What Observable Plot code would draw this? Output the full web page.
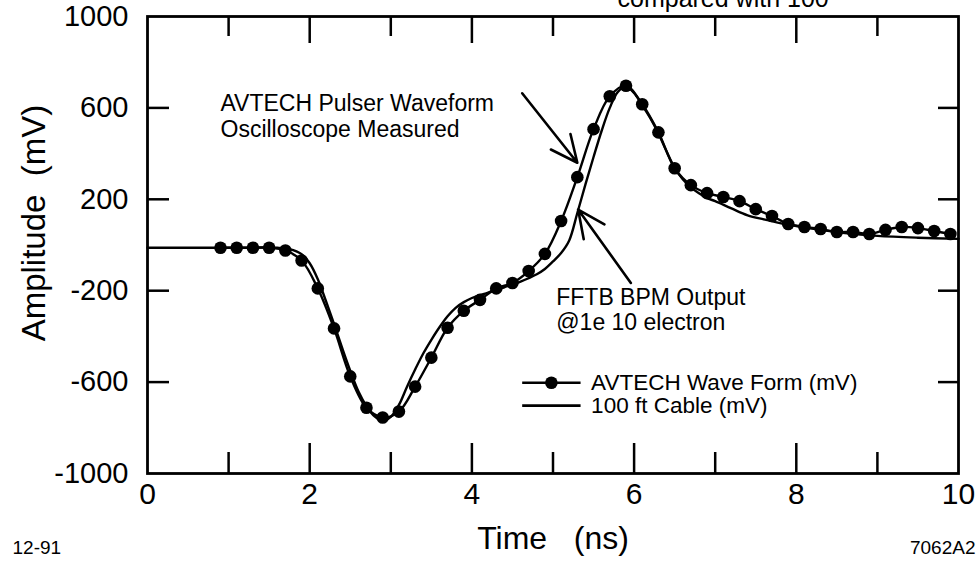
<!DOCTYPE html>
<html>
<head>
<meta charset="utf-8">
<script src="https://cdn.jsdelivr.net/npm/d3@7"></script>
<script src="https://cdn.jsdelivr.net/npm/@observablehq/plot@0.6"></script>
<style>
  html, body { margin: 0; padding: 0; background: #fff; }
  #chart svg { display: block; overflow: visible; }
  #chart svg text { white-space: pre; }
</style>
</head>
<body>
<div id="chart"></div>
<script>
// ---- data ----
const avtechTime = [0.9, 1.1, 1.3, 1.5, 1.7, 1.9, 2.1, 2.3, 2.5, 2.7, 2.9, 3.1, 3.3, 3.5, 3.7, 3.9, 4.1, 4.3, 4.5, 4.7, 4.9, 5.1, 5.3, 5.5, 5.7, 5.9, 6.1, 6.3, 6.5, 6.7, 6.9, 7.1, 7.3, 7.5, 7.7, 7.9, 8.1, 8.3, 8.5, 8.7, 8.9, 9.1, 9.3, 9.5, 9.7, 9.9];
const avtechMv = [-12, -12, -12, -12, -24, -68, -190, -365, -575, -712, -755, -729, -620, -493, -362, -288, -240, -190, -166, -114, -39, 105, 297, 507, 651, 697, 616, 493, 336, 262, 227, 210, 192, 157, 127, 92, 79, 70, 57, 57, 48, 66, 79, 74, 61, 48];

const cableTime = [0, 1.0, 1.6, 1.75, 1.9, 2.0, 2.1, 2.2, 2.3, 2.4, 2.5, 2.6, 2.7, 2.8, 2.9, 3.0, 3.1, 3.2, 3.3, 3.4, 3.5, 3.6, 3.7, 3.8, 3.9, 4.0, 4.2, 4.4, 4.6, 4.8, 4.9, 5.0, 5.1, 5.2, 5.3, 5.4, 5.5, 5.6, 5.7, 5.8, 5.9, 6.0, 6.1, 6.2, 6.3, 6.4, 6.5, 6.6, 6.7, 6.8, 6.9, 7.0, 7.2, 7.4, 7.6, 7.8, 8.0, 8.3, 8.6, 9.0, 9.5, 10];
const cableMv = [-12, -12, -12, -18, -40, -80, -150, -245, -345, -450, -550, -640, -705, -750, -768, -752, -700, -620, -545, -475, -415, -360, -312, -275, -250, -232, -208, -185, -160, -128, -105, -72, -35, 20, 140, 265, 385, 500, 600, 670, 692, 665, 612, 555, 488, 410, 338, 288, 252, 226, 205, 192, 160, 130, 112, 96, 83, 66, 52, 40, 32, 27];

const seriesNames = ["AVTECH Wave Form (mV)", "100 ft Cable (mV)"];
const xTickLabels = [0, 2, 4, 6, 8, 10];
const xMinorTicks = [1, 3, 5, 7, 9];
const xMajorTicks = [2, 4, 6, 8];
const yTickLabels = [1000, 600, 200, -200, -600, -1000];
const yTicks = [600, 200, -200, -600];
const annotationTexts = ["AVTECH Pulser Waveform", "Oscilloscope Measured", "FFTB BPM Output", "@1e 10 electron"];
const titleText = "compared with 100";
const xLabel = "Time   (ns)";
const yLabel = "Amplitude  (mV)";
const dateText = "12-91";
const figText = "7062A2";

// ---- tables built from the arrays ----
const avtech = avtechTime.map((t, i) => ({t, v: avtechMv[i]}));
const cable = cableTime.map((t, i) => ({t, v: cableMv[i]}));

// ---- layout (annotation anchors in data units) ----
const W = 978, H = 571;
const mL = 147, mR = 20, mT = 16, mB = 98;
const fw = W - mL - mR, fh = H - mT - mB;
const font = "'Liberation Sans', Arial, Helvetica, sans-serif";

const annPos = [
  {t: 0.9, v: 620}, {t: 0.9, v: 505},
  {t: 5.04, v: -231}, {t: 5.04, v: -341}
];
const arrows = [
  {t1: 4.62, v1: 664, t2: 5.30, v2: 360},
  {t1: 5.96, v1: -166, t2: 5.31, v2: 155}
];
const legendRows = [
  {t1: 4.62, t2: 5.34, tDot: 4.98, tText: 5.47, v: -603, name: seriesNames[0], dot: true},
  {t1: 4.62, t2: 5.34, tDot: 4.98, tText: 5.47, v: -703, name: seriesNames[1], dot: false}
];
const yLabelPos = [{t: -1.40, v: 96, label: yLabel}];

const chart = Plot.plot({
  width: W, height: H,
  marginLeft: mL, marginRight: mR, marginTop: mT, marginBottom: mB,
  style: {fontFamily: font, color: "black", background: "white"},
  x: {domain: [0, 10], axis: null},
  y: {domain: [-1000, 1000], axis: null},
  marks: [
    // tick labels
    Plot.axisX({ticks: xTickLabels, tickSize: 0, tickPadding: 9, fontSize: 30, tickFormat: d => String(d), anchor: "bottom"}),
    Plot.axisY({ticks: yTickLabels, tickSize: 0, tickPadding: 19, fontSize: 29, tickFormat: d => String(d), anchor: "left"}),
    // inward tick marks
    Plot.tickX(xMinorTicks, {x: d => d, insetBottom: fh - 20, strokeWidth: 2.5}),
    Plot.tickX(xMajorTicks, {x: d => d, insetBottom: fh - 27, strokeWidth: 2.5}),
    Plot.tickX(xMinorTicks, {x: d => d, insetTop: fh - 21, strokeWidth: 2.5}),
    Plot.tickX(xMajorTicks, {x: d => d, insetTop: fh - 30, strokeWidth: 2.5}),
    Plot.tickY(yTicks, {y: d => d, insetRight: fw - 22, strokeWidth: 2.5}),
    Plot.tickY(yTicks, {y: d => d, insetLeft: fw - 20, strokeWidth: 2.5}),
    Plot.frame({stroke: "black", strokeWidth: 2.8}),
    // data
    Plot.line(cable, {x: "t", y: "v", stroke: "black", strokeWidth: 2.4, curve: "catmull-rom"}),
    Plot.line(avtech, {x: "t", y: "v", stroke: "black", strokeWidth: 2.4, curve: "catmull-rom"}),
    Plot.dot(avtech, {x: "t", y: "v", r: 6.3, fill: "black", stroke: "none"}),
    // annotations
    Plot.text(annPos, {x: "t", y: "v", text: (d, i) => annotationTexts[i], textAnchor: "start", fontSize: 23, fill: "black"}),
    Plot.arrow(arrows, {x1: "t1", y1: "v1", x2: "t2", y2: "v2", stroke: "black", strokeWidth: 2.6, headLength: 18, headAngle: 50}),
    // legend
    Plot.link(legendRows, {x1: "t1", x2: "t2", y1: "v", y2: "v", stroke: "black", strokeWidth: 2.6}),
    Plot.dot(legendRows.filter(d => d.dot), {x: "tDot", y: "v", r: 6.3, fill: "black", stroke: "none"}),
    Plot.text(legendRows, {x: "tText", y: "v", text: "name", textAnchor: "start", fontSize: 22.5, fill: "black"}),
    // axis titles and margin texts
    Plot.text([xLabel], {frameAnchor: "bottom", dy: 75, text: d => d, fontSize: 32, fill: "black"}),
    Plot.text(yLabelPos, {x: "t", y: "v", text: "label", rotate: -90, fontSize: 33, fill: "black", clip: false}),
    Plot.text([dateText], {frameAnchor: "bottom-left", dx: -135, dy: 80, textAnchor: "start", text: d => d, fontSize: 19, fill: "black"}),
    Plot.text([figText], {frameAnchor: "bottom-right", dx: 17, dy: 80, textAnchor: "end", text: d => d, fontSize: 19, fill: "black"}),
    Plot.text([titleText], {frameAnchor: "top-left", dx: 617 - mL, dy: -10, textAnchor: "start", lineAnchor: "bottom", text: d => d, fontSize: 25, fill: "black"})
  ]
});
document.getElementById("chart").appendChild(chart);
</script>
</body>
</html>
